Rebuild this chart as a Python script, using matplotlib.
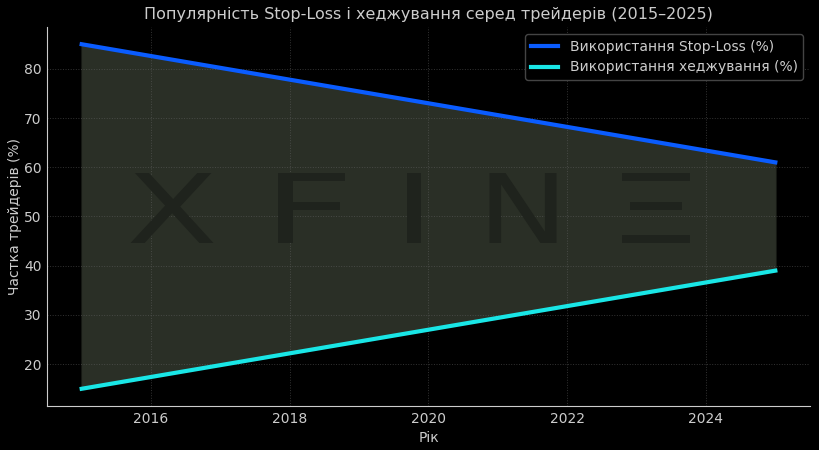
import matplotlib.pyplot as plt
from matplotlib.textpath import TextPath
from matplotlib.patches import PathPatch
from matplotlib.font_manager import FontProperties
from matplotlib.transforms import Affine2D, IdentityTransform

years = [2015, 2016, 2017, 2018, 2019, 2020, 2021, 2022, 2023, 2024, 2025]
stop_loss = [85, 82.6, 80.2, 77.8, 75.4, 73, 70.6, 68.2, 65.8, 63.4, 61]
hedging = [15, 17.4, 19.8, 22.2, 24.6, 27, 29.4, 31.8, 34.2, 36.6, 39]

# watermark letters: centre x and width in pixels
wm_letters = ['X', 'F', 'I', 'N', 'Ξ']
wm_x = [172, 311, 414, 523, 656]
wm_w = [83, 67, 14, 67, 68]
wm_h = 70
wm_y = 450 - 208

txt = '#cccccc'
fig = plt.figure(figsize=(8.19, 4.5), dpi=100, facecolor='black')
ax = fig.add_axes([47/819, 44/450, 763/819, 379/450])
ax.set_facecolor('black')

ax.fill_between(years, hedging, stop_loss, color='#2a2f26', zorder=1)
ax.plot(years, stop_loss, color='#0a5cff', lw=3, label='Використання Stop-Loss (%)', zorder=3)
ax.plot(years, hedging, color='#19e6e6', lw=3, label='Використання хеджування (%)', zorder=3)

fp = FontProperties(family='DejaVu Sans')
for s, xp, w in zip(wm_letters, wm_x, wm_w):
    tp = TextPath((0, 0), s, size=100, prop=fp)
    ext = tp.get_extents()
    tr = (Affine2D().translate(-(ext.x0 + ext.x1) / 2, -(ext.y0 + ext.y1) / 2)
          .scale(w / ext.width, wm_h / ext.height).translate(xp, wm_y))
    patch = PathPatch(tr.transform_path(tp), facecolor='#1f231d', edgecolor='none',
                      transform=IdentityTransform(), zorder=2)
    fig.patches.append(patch)

ax.grid(True, color='#666666', ls=':', lw=0.7, alpha=0.5)
ax.set_xticks([2016, 2018, 2020, 2022, 2024])
ax.set_yticks([20, 30, 40, 50, 60, 70, 80])
ax.tick_params(colors=txt, labelsize=10, length=0, pad=4)
for sp in ['top', 'right']:
    ax.spines[sp].set_visible(False)
for sp in ['left', 'bottom']:
    ax.spines[sp].set_color(txt)

ax.set_title('Популярність Stop-Loss і хеджування серед трейдерів (2015–2025)', color=txt, fontsize=11.5)
ax.set_xlabel('Рік', color=txt, fontsize=10)
ax.set_ylabel('Частка трейдерів (%)', color=txt, fontsize=10, labelpad=1)

leg = ax.legend(loc='upper right', facecolor='black', edgecolor='#444444', fontsize=10, framealpha=1)
for t in leg.get_texts():
    t.set_color(txt)

fig.savefig('out.png', dpi=100, facecolor='black')
